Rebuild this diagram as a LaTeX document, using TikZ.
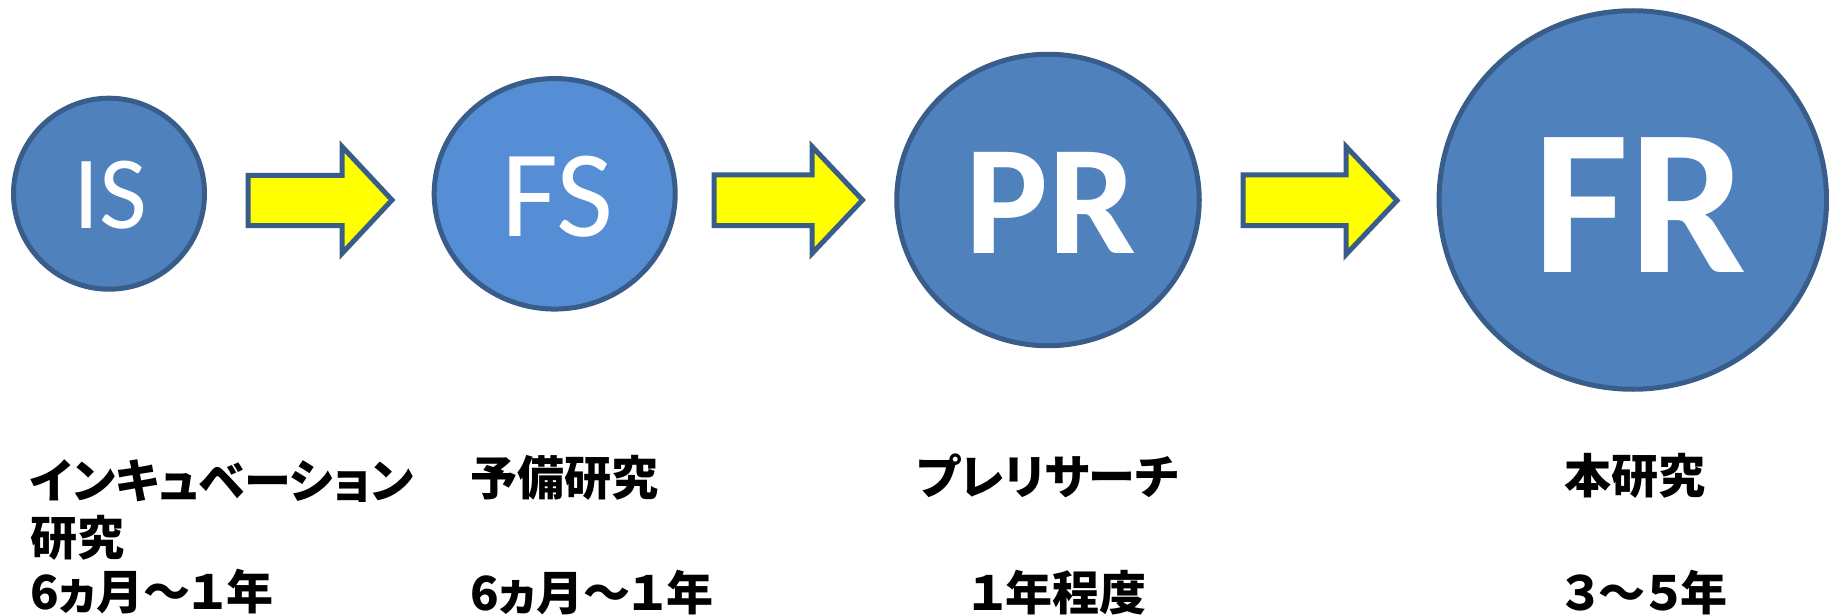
\documentclass[tikz,border=0pt]{standalone}
\usepackage{fontspec}
\usetikzlibrary{shapes.geometric}
\newfontfamily\latinfont{Carlito}
\newfontfamily\jpfont[RawFeature=+palt]{Noto Sans CJK JP}
\definecolor{stageblue}{HTML}{4F81BD}
\definecolor{lightblue}{HTML}{558ED5}
\definecolor{edgeblue}{HTML}{385D8A}
\definecolor{arrowyellow}{HTML}{FFFF00}
\tikzset{
  stage/.style={ellipse, draw=edgeblue, fill=stageblue, line width=5pt, inner sep=0pt},
  yarrow/.style={draw=edgeblue, fill=arrowyellow, line width=5pt, line join=miter},
  stagetext/.style={text=white, inner sep=0pt, anchor=center},
  jplabel/.style={inner sep=0pt, anchor=west, font=\jpfont\bfseries\fontsize{47}{56.5}\selectfont},
  jpc/.style={inner sep=0pt, anchor=center, font=\jpfont\bfseries\fontsize{47}{56.5}\selectfont}
}
\begin{document}
\begin{tikzpicture}[x=1pt,y=-1pt]
\useasboundingbox[fill=white] (0,0) rectangle (1829,615);
% stages
\node[stage, minimum width=191pt, minimum height=191pt] (is) at (109,193.7) {};
\node[stage, fill=lightblue, minimum width=241pt, minimum height=230.5pt] (fs) at (554.7,193.8) {};
\node[stage, minimum width=302.5pt, minimum height=291.5pt] (pr) at (1048,200) {};
\node[stage, minimum width=387.5pt, minimum height=378.5pt] (fr) at (1632.8,200) {};
% stage letters
\node[stagetext, font=\latinfont\fontsize{104}{104}\selectfont] (ist) at (110.5,195) {IS};
\node[stagetext, font=\latinfont\fontsize{124}{124}\selectfont] (fst) at (557.5,196.7) {FS};
\node[stagetext, font=\latinfont\bfseries\fontsize{156}{156}\selectfont] (prt) at (1050.7,203) {PR};
\node[stagetext, font=\latinfont\bfseries\fontsize{208}{208}\selectfont] (frt) at (1640,205) {FR};
% block arrows
\draw[yarrow] (248,175.5) -- (342,175.5) -- (342,146.5) -- (392,200) -- (342,253.5) -- (342,225.5) -- (248,225.5) -- cycle;
\draw[yarrow] (714,175) -- (812,175) -- (812,146.5) -- (862.5,200) -- (812,253.5) -- (812,225.5) -- (714,225.5) -- cycle;
\draw[yarrow] (1243,175) -- (1346,175) -- (1346,146.5) -- (1397,200.5) -- (1346,254.5) -- (1346,225.5) -- (1243,225.5) -- cycle;
% labels
\node[jplabel] (l1a) at (30,481) {インキュベーション};
\node[jplabel] (l1c) at (30,537.5) {研究};
\node[jplabel] (l1b) at (30,592) {6ヵ月～１年};
\node[jplabel] (l2a) at (470,478) {予備研究};
\node[jplabel] (l2b) at (470,593) {6ヵ月～１年};
\node[jpc] (l3a) at (1048,476) {プレリサーチ};
\node[jpc] (l3b) at (1058,592.5) {１年程度};
\node[jpc] (l4a) at (1635,476) {本研究};
\node[jpc] (l4b) at (1645,592.5) {３～５年};
\end{tikzpicture}
\end{document}
